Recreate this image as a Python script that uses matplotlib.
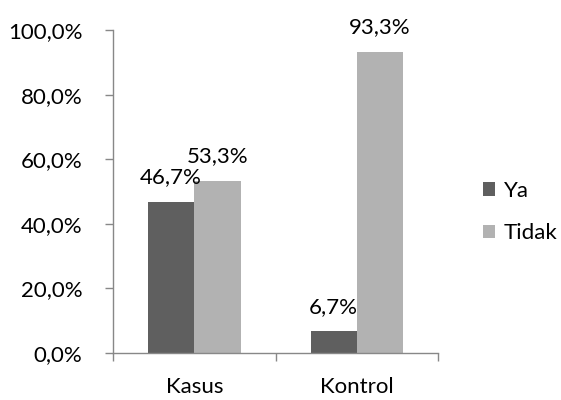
import matplotlib
matplotlib.use("Agg")
import matplotlib.pyplot as plt
import numpy as np

plt.rcParams['font.family'] = ['Lato', 'DejaVu Sans']

categories = ["Kasus", "Kontrol"]
series_names = ["Ya", "Tidak"]
ya = [46.7, 6.7]
tidak = [53.3, 93.3]
yticks = [0, 20, 40, 60, 80, 100]

dark = "#5f5f5f"
light = "#b2b2b2"

fig = plt.figure(figsize=(5.61, 4.0), dpi=100)
ax = fig.add_axes([0.2014, 0.1175, 0.5796, 0.8075])

x = np.arange(len(categories))
w = 0.285
b1 = ax.bar(x - w/2, ya, w, color=dark, label=series_names[0])
b2 = ax.bar(x + w/2, tidak, w, color=light, label=series_names[1])

fs = 16
for bars, vals in ((b1, ya), (b2, tidak)):
    for rect, v in zip(bars, vals):
        ax.annotate(f"{v:.1f}%".replace('.', ','),
                    xy=(rect.get_x() + rect.get_width()/2, v),
                    xytext=(0, 13.5), textcoords='offset points',
                    ha='center', va='baseline', fontsize=fs)

ax.set_xlim(-0.5, 1.5)
ax.set_ylim(0, 100)
ax.set_yticks(yticks)
ax.set_yticklabels([f"{t:.1f}%".replace('.', ',') for t in yticks], fontsize=fs)
ax.set_xticks(x)
ax.set_xticklabels(categories, fontsize=fs)
ax.tick_params(axis='x', length=0, pad=17)
ax.set_xticks([-0.5, 0.5, 1.5], minor=True)
ax.tick_params(axis='x', which='minor', length=6, color='#888888', width=1)
ax.tick_params(axis='y', length=6, color='#888888', width=1, pad=16)

for s in ['top', 'right']:
    ax.spines[s].set_visible(False)
for s in ['left', 'bottom']:
    ax.spines[s].set_color('#888888')
    ax.spines[s].set_linewidth(1)

leg = fig.legend(handles=[b1, b2], labels=series_names, loc='center left',
                 bbox_to_anchor=(0.825, 0.47), frameon=False, fontsize=fs,
                 handlelength=0.55, handleheight=0.55, handletextpad=0.4,
                 labelspacing=1.0)

fig.savefig("out.png", dpi=100)
